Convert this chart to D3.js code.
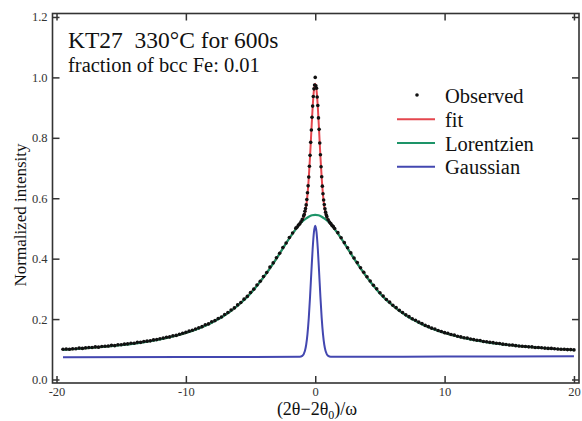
<html lang="en">

<head>
  <meta charset="utf-8">
  <title>KT27 330°C for 600s</title>
  <script type="text/javascript" src="https://d3js.org/d3.v7.min.js"></script>
  <style>
    body { margin: 0; background: #fff; }
    text { font-family: "Liberation Serif", "Times New Roman", serif; }
  </style>
</head>

<body>
  <svg width="582" height="421"></svg>
  <script>
    // values
    const xTicks = [-20, -10, 0, 10, 20];
    const yTicks = [0.0, 0.2, 0.4, 0.6, 0.8, 1.0, 1.2];
    const legendLabels = ["Observed", "fit", "Lorentzien", "Gaussian"];

    const observed = [
      [-19.5, 0.100], [-19.25, 0.101], [-19, 0.100], [-18.75, 0.102], [-18.5, 0.102], [-18.25, 0.104],
      [-18, 0.103], [-17.75, 0.105], [-17.5, 0.106], [-17.25, 0.106], [-17, 0.108], [-16.75, 0.107],
      [-16.5, 0.109], [-16.25, 0.110], [-16, 0.111], [-15.75, 0.113], [-15.5, 0.112], [-15.25, 0.115],
      [-15, 0.115], [-14.75, 0.117], [-14.5, 0.118], [-14.25, 0.120], [-14, 0.120], [-13.75, 0.123],
      [-13.5, 0.123], [-13.25, 0.126], [-13, 0.127], [-12.75, 0.128], [-12.5, 0.131], [-12.25, 0.132],
      [-12, 0.135], [-11.75, 0.137], [-11.5, 0.140], [-11.25, 0.141], [-11, 0.145], [-10.75, 0.146],
      [-10.5, 0.150], [-10.25, 0.153], [-10, 0.156], [-9.75, 0.160], [-9.5, 0.163], [-9.25, 0.167],
      [-9, 0.171], [-8.75, 0.175], [-8.5, 0.181], [-8.25, 0.184], [-8, 0.191], [-7.75, 0.195],
      [-7.5, 0.202], [-7.25, 0.207], [-7, 0.215], [-6.75, 0.222], [-6.5, 0.230], [-6.25, 0.237],
      [-6, 0.247], [-5.75, 0.255], [-5.5, 0.266], [-5.25, 0.275], [-5, 0.288], [-4.75, 0.299],
      [-4.5, 0.313], [-4.25, 0.325], [-4, 0.341], [-3.75, 0.354], [-3.5, 0.372], [-3.25, 0.386],
      [-3, 0.403], [-2.75, 0.418], [-2.5, 0.437], [-2.25, 0.452], [-2, 0.470], [-1.75, 0.485],
      [-1.5, 0.501], [-1.4, 0.505], [-1.3, 0.511], [-1.2, 0.515], [-1.1, 0.522], [-1.0, 0.530],
      [-0.9, 0.541], [-0.85, 0.546], [-0.8, 0.557], [-0.75, 0.566], [-0.7, 0.578], [-0.65, 0.596],
      [-0.6, 0.618], [-0.55, 0.641], [-0.5, 0.670], [-0.45, 0.706], [-0.4, 0.742], [-0.35, 0.785],
      [-0.3, 0.826], [-0.25, 0.868], [-0.2, 0.905], [-0.15, 0.937], [-0.1, 0.962], [-0.05, 0.975],
      [0, 1.000], [0.05, 0.972], [0.1, 0.964], [0.15, 0.935], [0.2, 0.907], [0.25, 0.866],
      [0.3, 0.828], [0.35, 0.783], [0.4, 0.744], [0.45, 0.704], [0.5, 0.671], [0.55, 0.640],
      [0.6, 0.615], [0.65, 0.594], [0.7, 0.579], [0.75, 0.565], [0.8, 0.554], [0.85, 0.545],
      [0.9, 0.539], [1.0, 0.529], [1.1, 0.521], [1.2, 0.516], [1.3, 0.510], [1.4, 0.506],
      [1.5, 0.500], [1.75, 0.486], [2, 0.469], [2.25, 0.453], [2.5, 0.436], [2.75, 0.419],
      [3, 0.402], [3.25, 0.387], [3.5, 0.370], [3.75, 0.355], [4, 0.340], [4.25, 0.326],
      [4.5, 0.312], [4.75, 0.300], [5, 0.287], [5.25, 0.276], [5.5, 0.265], [5.75, 0.256],
      [6, 0.246], [6.25, 0.238], [6.5, 0.229], [6.75, 0.222], [7, 0.214], [7.25, 0.208],
      [7.5, 0.201], [7.75, 0.196], [8, 0.190], [8.25, 0.185], [8.5, 0.179], [8.75, 0.175],
      [9, 0.170], [9.25, 0.167], [9.5, 0.162], [9.75, 0.159], [10, 0.155], [10.25, 0.153],
      [10.5, 0.149], [10.75, 0.147], [11, 0.143], [11.25, 0.141], [11.5, 0.138], [11.75, 0.137],
      [12, 0.134], [12.25, 0.132], [12.5, 0.130], [12.75, 0.129], [13, 0.126], [13.25, 0.125],
      [13.5, 0.123], [13.75, 0.122], [14, 0.120], [14.25, 0.119], [14.5, 0.117], [14.75, 0.116],
      [15, 0.114], [15.25, 0.114], [15.5, 0.112], [15.75, 0.111], [16, 0.110], [16.25, 0.109],
      [16.5, 0.108], [16.75, 0.108], [17, 0.106], [17.25, 0.106], [17.5, 0.105], [17.75, 0.104],
      [18, 0.103], [18.25, 0.103], [18.5, 0.102], [18.75, 0.101], [19, 0.100], [19.25, 0.100],
      [19.5, 0.099], [19.75, 0.099], [20, 0.098]
    ];

    const lorentzien = [
      [-19.5, 0.098], [-18, 0.1026], [-16, 0.1095], [-14, 0.119], [-12, 0.133], [-10, 0.154],
      [-8, 0.188], [-7, 0.212], [-6, 0.244], [-5, 0.285], [-4, 0.338], [-3, 0.400], [-2.5, 0.434],
      [-2, 0.4675], [-1.5, 0.498], [-1, 0.523], [-0.75, 0.532], [-0.5, 0.539], [-0.25, 0.5436],
      [0, 0.545], [0.25, 0.5436], [0.5, 0.539], [0.75, 0.532], [1, 0.523], [1.5, 0.498],
      [2, 0.4675], [2.5, 0.434], [3, 0.400], [4, 0.338], [5, 0.285], [6, 0.244], [7, 0.212],
      [8, 0.188], [10, 0.154], [12, 0.133], [14, 0.119], [16, 0.1095], [18, 0.1026], [20, 0.0977]
    ];

    const fitCurve = [
      [-19.5, 0.098], [-18, 0.1026], [-16, 0.1095], [-14, 0.119], [-12, 0.133], [-10, 0.154],
      [-8, 0.188], [-6, 0.244], [-4, 0.338], [-3, 0.400], [-2, 0.4675], [-1.4, 0.5035],
      [-1.2, 0.5138], [-1.0, 0.526], [-0.9, 0.535], [-0.8, 0.549], [-0.7, 0.573], [-0.6, 0.611],
      [-0.5, 0.667], [-0.4, 0.739], [-0.3, 0.822], [-0.2, 0.901], [-0.1, 0.958], [0, 0.979],
      [0.1, 0.958], [0.2, 0.901], [0.3, 0.822], [0.4, 0.739], [0.5, 0.667], [0.6, 0.611],
      [0.7, 0.573], [0.8, 0.549], [0.9, 0.535], [1.0, 0.526], [1.2, 0.5138], [1.4, 0.5035],
      [2, 0.4675], [3, 0.400], [4, 0.338], [6, 0.244], [8, 0.188], [10, 0.154], [12, 0.133],
      [14, 0.119], [16, 0.1095], [18, 0.1026], [20, 0.0977]
    ];

    const gaussian = [
      [-19.5, 0.074], [-10, 0.0745], [-1.2, 0.075], [-1.0, 0.078], [-0.8, 0.094], [-0.7, 0.115],
      [-0.6, 0.150], [-0.5, 0.203], [-0.4, 0.274], [-0.3, 0.355], [-0.2, 0.432], [-0.1, 0.488],
      [0, 0.509], [0.1, 0.488], [0.2, 0.432], [0.3, 0.355], [0.4, 0.274], [0.5, 0.203],
      [0.6, 0.150], [0.7, 0.115], [0.8, 0.094], [1.0, 0.078], [1.2, 0.075], [10, 0.076], [20, 0.077]
    ];

    const colors = { fit: "#e4464e", lor: "#1d9468", gau: "#4347b0" };

    const svg = d3.select("svg");
    const plotLeft = 52.5, plotRight = 579, plotTop = 13.5, plotBottom = 383;

    const x = d3.scaleLinear().domain([-20.31, 20.39]).range([plotLeft, plotRight]);
    const y = d3.scaleLinear().domain([-0.0116, 1.2115]).range([plotBottom, plotTop]);

    svg.append("clipPath").attr("id", "plot")
      .append("rect")
      .attr("x", plotLeft).attr("y", plotTop)
      .attr("width", plotRight - plotLeft).attr("height", plotBottom - plotTop);

    const line = d3.line()
      .x(d => { return x(d[0]); })
      .y(d => { return y(d[1]); })
      .curve(d3.curveMonotoneX);

    const plot = svg.append("g").attr("clip-path", "url(#plot)");

    plot.append("path").datum(gaussian)
      .attr("d", line).attr("fill", "none")
      .attr("stroke", colors.gau).attr("stroke-width", 2);

    plot.append("path").datum(fitCurve)
      .attr("d", line).attr("fill", "none")
      .attr("stroke", colors.fit).attr("stroke-width", 2);

    plot.append("path").datum(lorentzien)
      .attr("d", line).attr("fill", "none")
      .attr("stroke", colors.lor).attr("stroke-width", 2.2);

    plot.selectAll("circle")
      .data(observed)
      .enter()
      .append("circle")
      .attr("cx", d => { return x(d[0]); })
      .attr("cy", d => { return y(d[1]); })
      .attr("r", 1.8)
      .attr("fill", "#111");

    // axes, ticks pointing inward on all four sides
    function styleAxis(g) {
      g.select(".domain").remove();
      g.selectAll(".tick line").attr("stroke", "#333").attr("stroke-width", 1.5);
      g.selectAll(".tick text")
        .attr("fill", "#333")
        .style("font-family", "'Liberation Serif', serif")
        .style("font-size", "12.5px");
    }

    svg.append("g")
      .attr("transform", `translate(0,${plotBottom})`)
      .call(d3.axisBottom(x).tickValues(xTicks).tickSizeInner(-7).tickSizeOuter(0)
        .tickPadding(4).tickFormat(d => { return d; }))
      .call(styleAxis);

    svg.append("g")
      .attr("transform", `translate(0,${plotTop})`)
      .call(d3.axisTop(x).tickValues(xTicks).tickSizeInner(-7).tickSizeOuter(0).tickFormat(""))
      .call(styleAxis);

    svg.append("g")
      .attr("transform", `translate(${plotLeft},0)`)
      .call(d3.axisLeft(y).tickValues(yTicks).tickSizeInner(-7).tickSizeOuter(0)
        .tickPadding(5).tickFormat(d3.format(".1f")))
      .call(styleAxis);

    svg.append("g")
      .attr("transform", `translate(${plotRight},0)`)
      .call(d3.axisRight(y).tickValues(yTicks).tickSizeInner(-7).tickSizeOuter(0).tickFormat(""))
      .call(styleAxis);

    svg.append("rect")
      .attr("x", plotLeft).attr("y", plotTop)
      .attr("width", plotRight - plotLeft).attr("height", plotBottom - plotTop)
      .attr("fill", "none").attr("stroke", "#333").attr("stroke-width", 1.6);

    // axis titles
    const xTitle = svg.append("text")
      .attr("x", 317).attr("y", 415)
      .attr("text-anchor", "middle")
      .style("font-size", "18px")
      .attr("fill", "#111");
    xTitle.append("tspan").text("(2θ−2θ");
    xTitle.append("tspan").attr("dy", 4).style("font-size", "12px").text("0");
    xTitle.append("tspan").attr("dy", -4).text(")/ω");

    svg.append("text")
      .attr("transform", "translate(26,215) rotate(-90)")
      .attr("text-anchor", "middle")
      .style("font-size", "17px")
      .attr("fill", "#111")
      .text("Normalized intensity");

    // sample labels
    svg.append("text")
      .attr("x", 68).attr("y", 48)
      .style("font-size", "23.5px")
      .style("white-space", "pre")
      .attr("fill", "#111")
      .text("KT27  330°C for 600s");

    svg.append("text")
      .attr("x", 68).attr("y", 72)
      .style("font-size", "20.5px")
      .attr("fill", "#111")
      .text("fraction of bcc Fe: 0.01");

    // legend
    const legendY = [103, 126.7, 150.5, 174.2];
    const legendColors = [null, colors.fit, colors.lor, colors.gau];

    svg.selectAll(".legend-text")
      .data(legendLabels)
      .enter()
      .append("text")
      .attr("class", "legend-text")
      .attr("x", 445)
      .attr("y", (d, i) => { return legendY[i]; })
      .style("font-size", "20.5px")
      .attr("fill", "#111")
      .text(d => { return d; });

    svg.append("circle")
      .attr("cx", 417).attr("cy", legendY[0] - 8)
      .attr("r", 1.8).attr("fill", "#111");

    svg.selectAll(".legend-line")
      .data([1, 2, 3])
      .enter()
      .append("line")
      .attr("class", "legend-line")
      .attr("x1", 397).attr("x2", 435)
      .attr("y1", i => { return legendY[i] - 7.5; })
      .attr("y2", i => { return legendY[i] - 7.5; })
      .attr("stroke", i => { return legendColors[i]; })
      .attr("stroke-width", 2);
  </script>
</body>

</html>
